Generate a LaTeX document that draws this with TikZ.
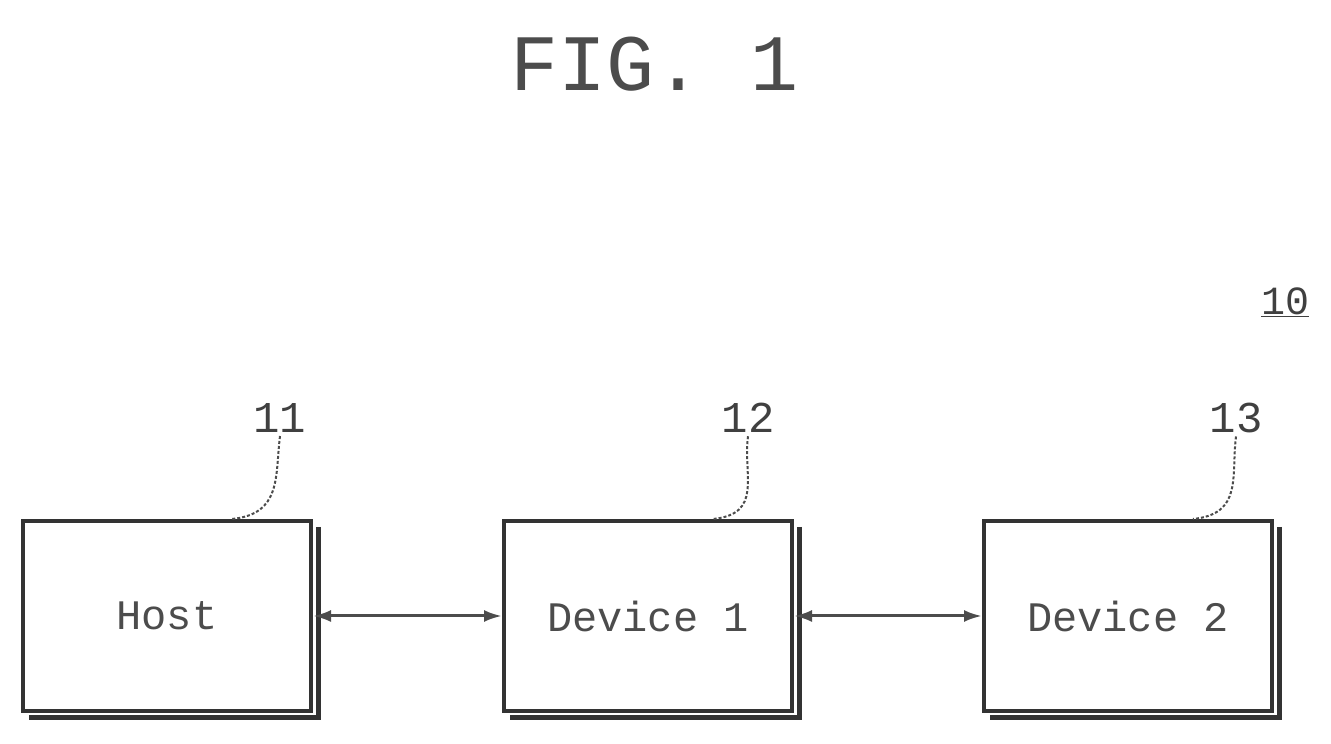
\documentclass[tikz,border=0pt]{standalone}
\usepackage{fontspec}
\setmainfont{Liberation Mono}
\usetikzlibrary{positioning,arrows.meta}
\tikzset{
  blk/.style={draw=black!80, line width=4pt, minimum width=288pt, minimum height=190pt,
    font=\fontsize{42}{42}\selectfont, text=black!70, inner sep=0pt},
  shd/.style={line width=5pt, black!80},
  lnk/.style={draw=black!70, line width=3pt, {Latex[length=18pt,width=12pt]}-{Latex[length=18pt,width=12pt]}},
  ref/.style={font=\fontsize{44}{44}\selectfont, text=black!75},
  lead/.style={draw=black!70, line width=2pt, dashed, dash pattern=on 3pt off 2pt}
}
\begin{document}
\begin{tikzpicture}[x=1pt,y=1pt]
  \useasboundingbox (0,0) rectangle (1331,744);
  \node[font=\fontsize{80}{80}\selectfont, text=black!70] (fig) at (655,680) {FIG. 1};
  % blocks
  \node[blk] (host) at (167,128) {Host};
  \node[blk] (dev1) at (648,128) {Device 1};
  \node[blk] (dev2) at (1128,128) {Device 2};
  \foreach \b in {host,dev1,dev2}
    \draw[shd] ([xshift=5pt,yshift=-8pt]\b.north east) -- ([xshift=5pt,yshift=-5pt]\b.south east) -- ([xshift=8pt,yshift=-5pt]\b.south west);
  % links
  \draw[lnk] (host.east) -- (dev1.west);
  \draw[lnk] (dev1.east) -- (dev2.west);
  % reference numerals
  \node[ref] (r11) at (280,326) {11};
  \node[ref] (r12) at (748,326) {12};
  \node[ref] (r13) at (1236,326) {13};
  \draw[lead] (r11.south) .. controls +(-5,-40) and +(50,5) .. ([xshift=65pt]host.north);
  \draw[lead] (r12.south) .. controls +(-5,-40) and +(50,5) .. ([xshift=65pt]dev1.north);
  \draw[lead] (r13.south) .. controls +(-5,-40) and +(50,5) .. ([xshift=65pt]dev2.north);
  \node[ref, font=\fontsize{40}{40}\selectfont] (r10) at (1285,442) {\underline{10}};
\end{tikzpicture}
\end{document}
